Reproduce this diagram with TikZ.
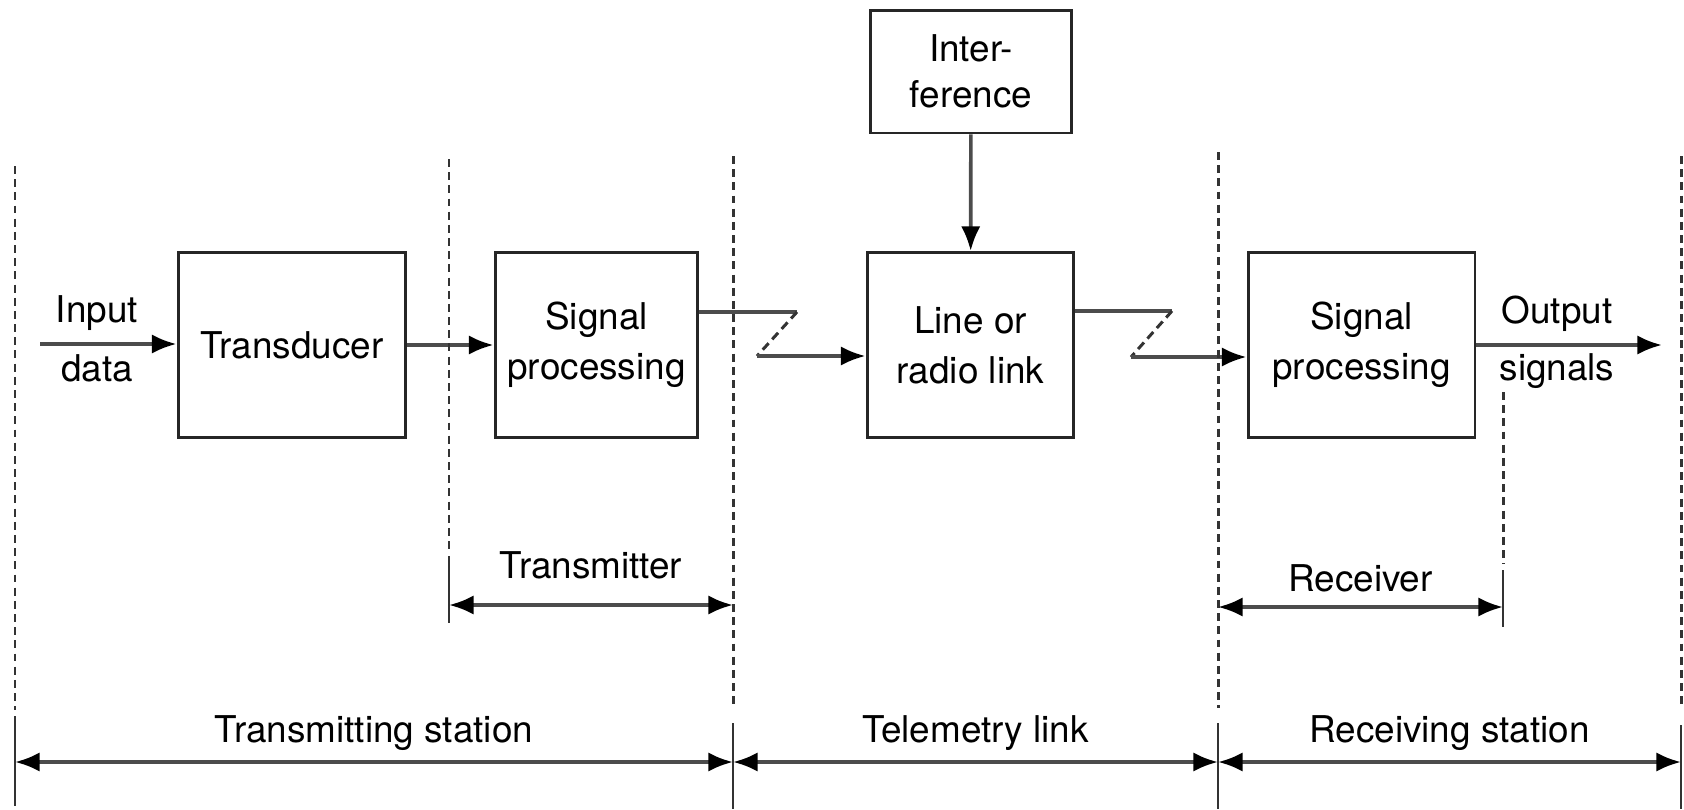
\documentclass[tikz,border=0pt]{standalone}
\usepackage{fontspec}
\setmainfont{TeX Gyre Heros}
\usetikzlibrary{arrows.meta}

\begin{document}
\begin{tikzpicture}[x=0.02cm, y=-0.02cm,
    font=\fontsize{21}{28.5}\selectfont,
    block/.style={draw=black!85, line width=1.7pt, rectangle, minimum height=3.7cm, align=center},
    wire/.style={draw=black!70, line width=2.1pt},
    arr/.style={-{Latex[length=14pt, width=11pt, color=black]}},
    twoarr/.style={{Latex[length=14pt, width=11pt, color=black]}-{Latex[length=14pt, width=11pt, color=black]}},
    hop/.style={draw=black!80, line width=1.7pt, dash pattern=on 5pt off 3pt},
    sep/.style={draw=black!80, line width=1.7pt, dash pattern=on 4.5pt off 3pt},
    tick/.style={draw=black!80, line width=1.6pt}]

    \useasboundingbox (0,0) rectangle (1684,809);

    % Blocks
    \node[block, minimum width=4.56cm] (trans) at (292,345) {Transducer};
    \node[block, minimum width=4.06cm] (sp1) at (596.5,345) {Signal\\processing};
    \node[block, minimum width=4.14cm] (link) at (970.5,345) {Line or\\radio link};
    \node[block, minimum width=4.54cm] (sp2) at (1361.5,345) {Signal\\processing};
    \node[block, minimum width=4.04cm, minimum height=2.46cm] (inter) at (971,71.5) {Inter-\\[-2.5pt]ference};

    % Input and output
    \node[align=center] (indata) at (97,339) {Input\\[5pt]data};
    \node[align=center] (outsig) at (1557,342) {Output\\[4pt]signals};
    \coordinate (inS) at (40,344);
    \coordinate (outE) at (1662,345);
    \draw[wire, arr] (inS) -- (trans.west |- inS);
    \draw[wire, arr] (trans) -- (sp1);
    \draw[wire, arr] (sp2.east |- outE) -- (outE);

    % Interference into the link
    \draw[wire, arr] (inter) -- (link);

    % Radio hops
    \coordinate (h1a) at (797,312);
    \coordinate (h1b) at (757,356);
    \draw[wire] (sp1.east |- h1a) -- (h1a);
    \draw[hop] (h1a) -- (h1b);
    \draw[wire, arr] (h1b) -- (link.west |- h1b);

    \coordinate (h2a) at (1172,311);
    \coordinate (h2b) at (1131,357);
    \draw[wire] (link.east |- h2a) -- (h2a);
    \draw[hop] (h2a) -- (h2b);
    \draw[wire, arr] (h2b) -- (sp2.west |- h2b);

    % Separators
    \draw[sep] (15,166) -- (15,710);
    \draw[tick] (15,716) -- (15,806);
    \draw[sep] (449,159) -- (449,553);
    \draw[tick] (449,556) -- (449,623);
    \draw[sep] (733,156) -- (733,708);
    \draw[tick] (733,723) -- (733,809);
    \draw[sep] (1218,152) -- (1218,708);
    \draw[tick] (1218,723) -- (1218,809);
    \draw[sep] (1503,392) -- (1503,564);
    \draw[tick] (1503,570) -- (1503,627);
    \draw[sep] (1681,156) -- (1681,707);
    \draw[tick] (1681,725) -- (1681,809);

    % Transmitter and receiver spans
    \coordinate (tx0) at (449,605);
    \coordinate (tx1) at (733,605);
    \draw[wire, twoarr] (tx0) -- (tx1) node[midway, anchor=base, yshift=0.54cm, text=black] (txlbl) {Transmitter};
    \coordinate (rx0) at (1218,607);
    \coordinate (rx1) at (1503,607);
    \draw[wire, twoarr] (rx0) -- (rx1) node[midway, anchor=base, yshift=0.32cm, text=black] (rxlbl) {Receiver};

    % Station spans
    \coordinate (st0) at (15,762);
    \coordinate (st1) at (733,762);
    \coordinate (st2) at (1218,762);
    \coordinate (st3) at (1681,762);
    \draw[wire, twoarr] (st0) -- (st1) node[midway, anchor=base, yshift=0.4cm, text=black] (txst) {Transmitting station};
    \draw[wire, twoarr] (st1) -- (st2) node[midway, anchor=base, yshift=0.4cm, text=black] (tmlink) {Telemetry link};
    \draw[wire, twoarr] (st2) -- (st3) node[midway, anchor=base, yshift=0.4cm, text=black] (rxst) {Receiving station};

\end{tikzpicture}
\end{document}
